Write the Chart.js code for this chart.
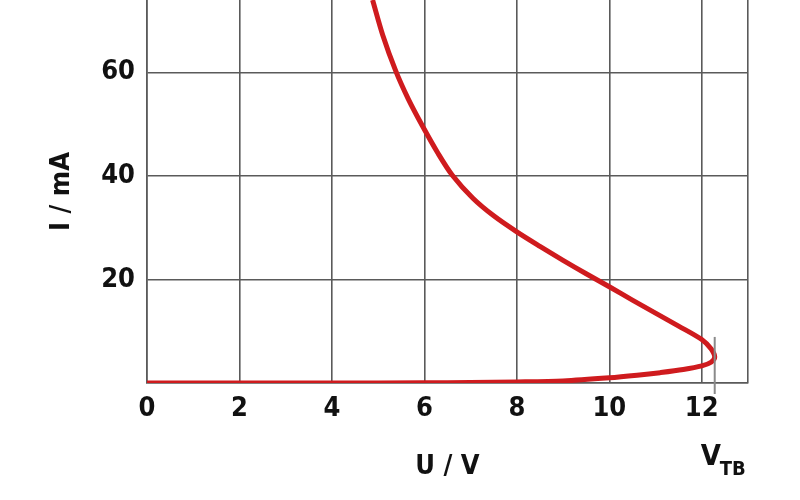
<!DOCTYPE html>
<html>
<head>
<meta charset="utf-8">
<script src="https://cdn.jsdelivr.net/npm/chart.js@4.4.1/dist/chart.umd.min.js"></script>
<style>
  html, body { margin: 0; padding: 0; background: #fff; }
  #wrap { width: 800px; height: 500px; }
</style>
</head>
<body>
<div id="wrap"><canvas id="kennlinie"></canvas></div>
<script>
// I(U) characteristic, path from origin out to the breakdown tip and back up
const uVolts     = [0, 4, 6, 7, 8, 9, 10, 10.6, 11.1, 11.6, 12.0, 12.2, 12.28,
                    12.2, 12.0, 11.5, 11.0, 10.5, 10.0, 9.5, 9.0, 8.5, 8.0, 7.5, 7.05, 6.6, 6.3, 5.95, 5.65, 5.38, 5.1, 4.88];
const iMilliamps = [0, 0, 0.03, 0.1, 0.2, 0.4, 1.0, 1.5, 2.0, 2.6, 3.3, 4.0, 5.0,
                    6.6, 8.4, 11.0, 13.5, 16.0, 18.6, 21.1, 23.7, 26.4, 29.2, 32.3, 35.7, 40.2, 44.3, 49.8, 54.9, 60.3, 67.2, 74];
const xTicks = [0, 2, 4, 6, 8, 10, 12];
const yTicks = [20, 40, 60];
const vTB = 12.28;

const font = "'DejaVu Sans Condensed', 'Liberation Sans', sans-serif";
const gridCol = '#5a5a5a';

const vtbPlugin = {
    id: 'vtb',
    afterDatasetsDraw(chart) {
        const ctx = chart.ctx;
        const x = chart.scales.x.getPixelForValue(vTB);
        const yTop = chart.scales.y.getPixelForValue(8.9);
        const yBot = chart.scales.y.getPixelForValue(0) + 11;
        ctx.save();
        ctx.strokeStyle = '#8a8a8a';
        ctx.lineWidth = 2;
        ctx.beginPath();
        ctx.moveTo(x, yTop);
        ctx.lineTo(x, yBot);
        ctx.stroke();
        ctx.fillStyle = '#111';
        ctx.textBaseline = 'alphabetic';
        ctx.textAlign = 'left';
        ctx.font = 'bold 29px ' + font;
        ctx.fillText('V', x - 14, 465);
        ctx.font = 'bold 20px ' + font;
        ctx.fillText('TB', x + 5, 475);
        ctx.restore();
    }
};

new Chart(document.getElementById('kennlinie'), {
    type: 'scatter',
    data: {
        datasets: [{
            data: uVolts.map((u, i) => ({x: u, y: iMilliamps[i]})),
            showLine: true,
            borderColor: '#cf1b1e',
            borderWidth: 5,
            pointRadius: 0,
            tension: 0.3,
            fill: false
        }]
    },
    options: {
        responsive: true,
        maintainAspectRatio: false,
        animation: false,
        layout: { padding: { top: 0, right: 52, bottom: 0, left: 0 } },
        plugins: { legend: { display: false }, tooltip: { enabled: false } },
        scales: {
            x: {
                type: 'linear',
                min: 0,
                max: 13,
                afterBuildTicks: s => { s.ticks = xTicks.concat([13]).map(v => ({value: v})); },
                afterFit: s => { s.height = 117; s.paddingLeft = 0; s.paddingRight = 0; },
                ticks: {
                    padding: 10,
                    color: '#111',
                    font: { family: font, size: 27, weight: 'bold' },
                    callback: v => xTicks.includes(v) ? String(v) : ''
                },
                grid: { color: gridCol, lineWidth: 1.6, drawTicks: false },
                border: { color: gridCol, width: 1.6 },
                title: {
                    display: true,
                    text: 'U / V',
                    color: '#111',
                    font: { family: font, size: 27, weight: 'bold' },
                    padding: { top: 0, bottom: 17 }
                }
            },
            y: {
                type: 'linear',
                min: 0,
                max: 74,
                afterBuildTicks: s => { s.ticks = [0].concat(yTicks).map(v => ({value: v})); },
                afterFit: s => { s.width = 147; s.paddingTop = 0; s.paddingBottom = 0; },
                ticks: {
                    padding: 12,
                    color: '#111',
                    font: { family: font, size: 27, weight: 'bold' },
                    callback: v => yTicks.includes(v) ? String(v) : ''
                },
                grid: { color: gridCol, lineWidth: 1.6, drawTicks: false },
                border: { color: gridCol, width: 1.6 },
                title: {
                    display: true,
                    text: 'I / mA',
                    color: '#111',
                    font: { family: font, size: 27, weight: 'bold' },
                    padding: { top: 46, bottom: 0 }
                }
            }
        }
    },
    plugins: [vtbPlugin]
});
</script>
</body>
</html>
